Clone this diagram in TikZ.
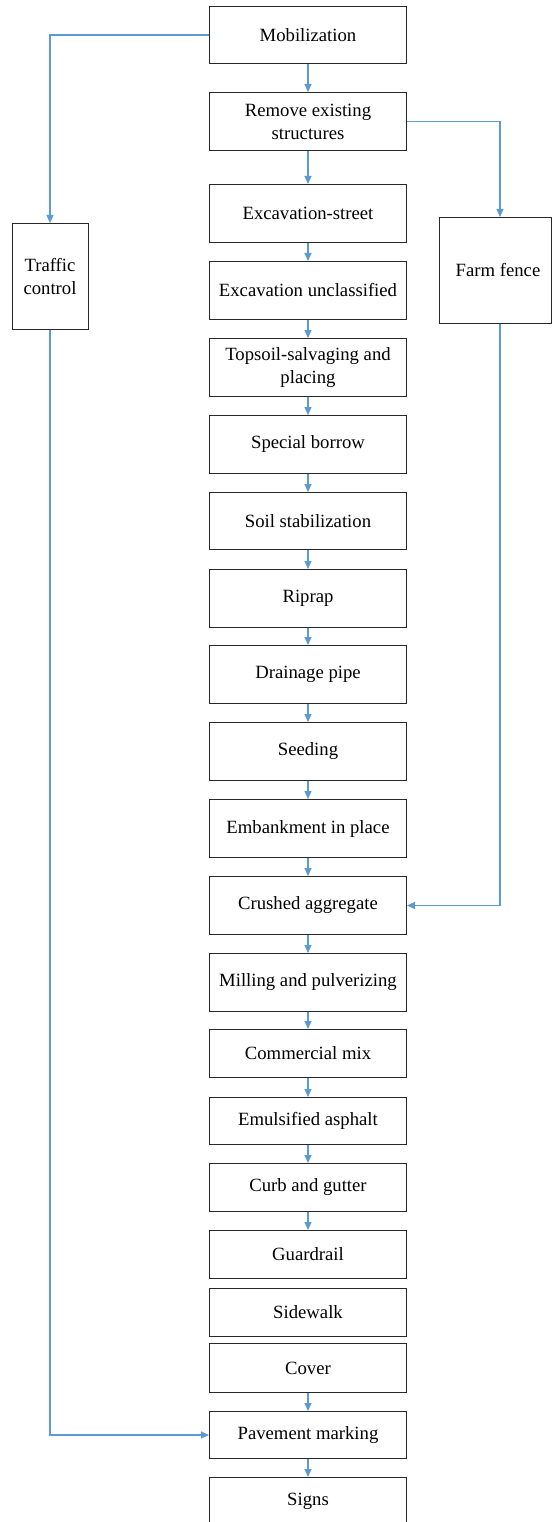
\documentclass[tikz,border=0pt]{standalone}
\usepackage{fontspec}
\setmainfont{Liberation Serif}
\usetikzlibrary{arrows.meta,calc}
\definecolor{linkblue}{RGB}{91,155,213}
\definecolor{boxline}{RGB}{40,40,40}
\begin{document}
\begin{tikzpicture}[x=1pt,y=-1pt,
  box/.style={draw=boxline, line width=1pt, minimum width=197pt, inner sep=0pt,
    align=center, anchor=north, font=\fontsize{18.7}{23}\selectfont},
  sidebox/.style={draw=boxline, line width=1pt, inner sep=0pt,
    align=center, anchor=north, font=\fontsize{18.7}{23}\selectfont},
  link/.style={draw=linkblue, line width=1.1pt, -{Triangle[length=8pt,width=7pt]}}]
\useasboundingbox (0,0) rectangle (552,1522);
\fill[white] (0,0) rectangle (552,1522);
\node[box, minimum height=57pt] (mob) at (308,6) {Mobilization};
\node[box, minimum height=58pt] (rem) at (308,92) {Remove existing\\structures};
\node[box, minimum height=58pt] (exs) at (308,184) {Excavation-street};
\node[box, minimum height=58pt] (exu) at (308,261) {Excavation unclassified};
\node[box, minimum height=58pt] (tps) at (308,338) {Topsoil-salvaging and\\placing};
\node[box, minimum height=58pt] (spb) at (308,415) {Special borrow};
\node[box, minimum height=57pt] (soi) at (308,492) {Soil stabilization};
\node[box, minimum height=58pt] (rip) at (308,569) {Riprap};
\node[box, minimum height=58pt] (dra) at (308,645) {Drainage pipe};
\node[box, minimum height=58pt] (see) at (308,722) {Seeding};
\node[box, minimum height=58pt] (emb) at (308,799) {Embankment in place};
\node[box, minimum height=58pt] (cru) at (308,876) {Crushed aggregate};
\node[box, minimum height=58pt] (mil) at (308,953) {Milling and pulverizing};
\node[box, minimum height=48pt] (com) at (308,1029) {Commercial mix};
\node[box, minimum height=47pt] (emu) at (308,1097) {Emulsified asphalt};
\node[box, minimum height=48pt] (cur) at (308,1163) {Curb and gutter};
\node[box, minimum height=48pt] (gua) at (308,1230) {Guardrail};
\node[box, minimum height=48pt] (sid) at (308,1288) {Sidewalk};
\node[box, minimum height=49pt] (cov) at (308,1343) {Cover};
\node[box, minimum height=47pt] (pav) at (308,1411) {Pavement marking};
\node[box, minimum height=48pt] (sig) at (308,1477) {Signs};
\node[sidebox, minimum width=76pt, minimum height=106pt] (tc) at (50,223) {Traffic\\control};
\node[sidebox, minimum width=112pt, minimum height=106pt] (ff) at (495,217) {\hspace*{6pt}Farm fence};
\coordinate (fftop) at ($(ff.north)+(5,0)$);
\coordinate (ffbot) at ($(ff.south)+(5,0)$);
\foreach \a/\b in {mob/rem,rem/exs,exs/exu,exu/tps,tps/spb,spb/soi,soi/rip,rip/dra,dra/see,see/emb,emb/cru,cru/mil,mil/com,com/emu,emu/cur,cur/gua,cov/pav,pav/sig}
  \draw[link] (\a.south) -- (\b.north);
\draw[link] (mob.west) -| (tc.north);
\draw[link] (tc.south) |- (pav.west);
\draw[link] (rem.east) -| (fftop);
\draw[link] (ffbot) |- (cru.east);
\end{tikzpicture}
\end{document}
